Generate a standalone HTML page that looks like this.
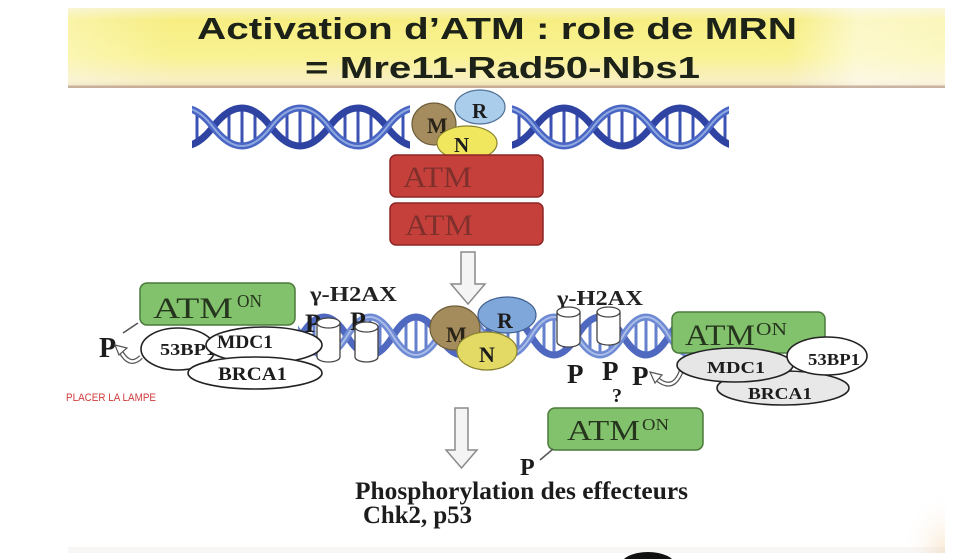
<!DOCTYPE html>
<html>
<head>
<meta charset="utf-8">
<style>
  html,body{margin:0;padding:0;background:#ffffff;}
  svg{display:block;}
  .ser{font-family:"Liberation Serif","DejaVu Serif",serif;}
  .sans{font-family:"Liberation Sans","DejaVu Sans",sans-serif;}
</style>
</head>
<body>
<svg width="978" height="559" viewBox="0 0 978 559" xmlns="http://www.w3.org/2000/svg">
  <defs>
    <linearGradient id="banV" x1="0" y1="0" x2="0" y2="1">
      <stop offset="0" stop-color="#f6f1c0"/>
      <stop offset="0.15" stop-color="#f7ee82"/>
      <stop offset="0.6" stop-color="#f9f292"/>
      <stop offset="0.9" stop-color="#f8efc0"/>
      <stop offset="1" stop-color="#eadcb4"/>
    </linearGradient>
    <linearGradient id="banH" x1="0" y1="0" x2="1" y2="0">
      <stop offset="0" stop-color="#ffffff" stop-opacity="0.3"/>
      <stop offset="0.12" stop-color="#ffffff" stop-opacity="0"/>
      <stop offset="0.82" stop-color="#ffffff" stop-opacity="0"/>
      <stop offset="0.9" stop-color="#ffffff" stop-opacity="0.55"/>
      <stop offset="1" stop-color="#ffffff" stop-opacity="0.45"/>
    </linearGradient>
    <radialGradient id="corner" cx="1" cy="1" r="1">
      <stop offset="0" stop-color="#f2c890" stop-opacity="0.4"/>
      <stop offset="1" stop-color="#ffffff" stop-opacity="0"/>
    </radialGradient>
    <clipPath id="cTL"><rect x="192" y="80" width="218" height="90"/></clipPath>
    <clipPath id="cTR"><rect x="512" y="80" width="217" height="90"/></clipPath>
    <clipPath id="cLow"><rect x="298" y="290" width="394" height="90"/></clipPath>
  </defs>

  <!-- background -->
  <rect x="0" y="0" width="978" height="559" fill="#ffffff"/>
  <rect x="900" y="490" width="45" height="63" fill="url(#corner)"/>
  <rect x="68" y="547" width="877" height="6" fill="#dcd6d4" opacity="0.2"/>
  <ellipse cx="648" cy="565" rx="27" ry="13" fill="#111111"/>

  <!-- Title banner -->
  <rect x="68" y="8" width="877" height="80" fill="url(#banV)"/>
  <rect x="68" y="8" width="877" height="80" fill="url(#banH)"/>
  <rect x="68" y="85.5" width="877" height="2.5" fill="#b89888" opacity="0.7"/>
  <text class="sans" x="197" y="39" font-size="31" font-weight="bold" fill="#1c2218" textLength="600" lengthAdjust="spacingAndGlyphs">Activation d’ATM : role de MRN</text>
  <text class="sans" x="305" y="78" font-size="31" font-weight="bold" fill="#1c2218" textLength="395" lengthAdjust="spacingAndGlyphs">= Mre11-Rad50-Nbs1</text>

  <!-- Top DNA left -->
  <g clip-path="url(#cTL)">
    <g stroke="#3c52b3" stroke-width="3">
      <line x1="197" y1="115" x2="197" y2="139"/>
      <line x1="229" y1="115" x2="229" y2="139"/><line x1="242" y1="111" x2="242" y2="143"/><line x1="255" y1="115" x2="255" y2="139"/>
      <line x1="287" y1="115" x2="287" y2="139"/><line x1="300" y1="111" x2="300" y2="143"/><line x1="313" y1="115" x2="313" y2="139"/>
      <line x1="345" y1="115" x2="345" y2="139"/><line x1="358" y1="111" x2="358" y2="143"/><line x1="371" y1="115" x2="371" y2="139"/>
      <line x1="403" y1="115" x2="403" y2="139"/>
    </g>
    <path d="M155,127 Q184,165 213,127 T271,127 T329,127 T387,127 T445,127" fill="none" stroke="#2f43a3" stroke-width="7"/>
    <path d="M155,127 Q184,89 213,127 T271,127 T329,127 T387,127 T445,127" fill="none" stroke="#4a66c4" stroke-width="7"/>
    <path d="M155,127 Q184,89 213,127 T271,127 T329,127 T387,127 T445,127" fill="none" stroke="#8fa9e0" stroke-width="2"/>
  </g>
  <!-- Top DNA right -->
  <g clip-path="url(#cTR)">
    <g stroke="#3c52b3" stroke-width="3">
      <line x1="519" y1="115" x2="519" y2="139"/>
      <line x1="551" y1="115" x2="551" y2="139"/><line x1="564" y1="111" x2="564" y2="143"/><line x1="577" y1="115" x2="577" y2="139"/>
      <line x1="609" y1="115" x2="609" y2="139"/><line x1="622" y1="111" x2="622" y2="143"/><line x1="635" y1="115" x2="635" y2="139"/>
      <line x1="667" y1="115" x2="667" y2="139"/><line x1="680" y1="111" x2="680" y2="143"/><line x1="693" y1="115" x2="693" y2="139"/>
      <line x1="725" y1="115" x2="725" y2="139"/>
    </g>
    <path d="M477,127 Q506,165 535,127 T593,127 T651,127 T709,127 T767,127" fill="none" stroke="#2f43a3" stroke-width="7"/>
    <path d="M477,127 Q506,89 535,127 T593,127 T651,127 T709,127 T767,127" fill="none" stroke="#4a66c4" stroke-width="7"/>
    <path d="M477,127 Q506,89 535,127 T593,127 T651,127 T709,127 T767,127" fill="none" stroke="#8fa9e0" stroke-width="2"/>
  </g>

  <!-- Top MRN -->
  <ellipse cx="434" cy="124" rx="22" ry="21" fill="#a58c5e" stroke="#6d5c38" stroke-width="1.2"/>
  <text class="ser" x="427" y="133" font-size="22" font-weight="bold" fill="#2a2418">M</text>
  <ellipse cx="480" cy="107" rx="25" ry="17" fill="#a9cdea" stroke="#4f6f95" stroke-width="1.2"/>
  <text class="ser" x="472" y="118" font-size="21" font-weight="bold" fill="#1c1c1c">R</text>
  <ellipse cx="467" cy="143" rx="30" ry="17" fill="#f0e75e" stroke="#8a8430" stroke-width="1.2"/>
  <text class="ser" x="454" y="152" font-size="21" font-weight="bold" fill="#1c1c1c">N</text>

  <!-- Red ATM boxes -->
  <rect x="390" y="155" width="153" height="42" rx="6" fill="#c6403b" stroke="#8d2623" stroke-width="1.5"/>
  <text class="ser" x="403" y="187" font-size="30" fill="#80302c" textLength="69" lengthAdjust="spacingAndGlyphs">ATM</text>
  <rect x="390" y="203" width="153" height="42" rx="6" fill="#c6403b" stroke="#8d2623" stroke-width="1.5"/>
  <text class="ser" x="405" y="235" font-size="30" fill="#80302c" textLength="68" lengthAdjust="spacingAndGlyphs">ATM</text>

  <!-- Arrow 1 -->
  <path d="M461,252 L475,252 L475,284 L485,284 L468,304 L451,284 L461,284 Z" fill="#f4f4f4" stroke="#8a8a8a" stroke-width="1.5"/>

  <!-- Lower DNA -->
  <g clip-path="url(#cLow)">
    <g stroke="#6580cc" stroke-width="3">
      <line x1="314" y1="324" x2="314" y2="348"/><line x1="324" y1="320" x2="324" y2="352"/><line x1="334" y1="324" x2="334" y2="348"/>
      <line x1="360" y1="324" x2="360" y2="348"/><line x1="370" y1="320" x2="370" y2="352"/><line x1="380" y1="324" x2="380" y2="348"/>
      <line x1="406" y1="324" x2="406" y2="348"/><line x1="416" y1="320" x2="416" y2="352"/><line x1="426" y1="324" x2="426" y2="348"/>
      <line x1="498" y1="324" x2="498" y2="348"/><line x1="508" y1="320" x2="508" y2="352"/><line x1="518" y1="324" x2="518" y2="348"/>
      <line x1="544" y1="324" x2="544" y2="348"/><line x1="554" y1="320" x2="554" y2="352"/><line x1="564" y1="324" x2="564" y2="348"/>
      <line x1="590" y1="324" x2="590" y2="348"/><line x1="600" y1="320" x2="600" y2="352"/><line x1="610" y1="324" x2="610" y2="348"/>
      <line x1="636" y1="324" x2="636" y2="348"/><line x1="646" y1="320" x2="646" y2="352"/><line x1="656" y1="324" x2="656" y2="348"/>
      <line x1="682" y1="324" x2="682" y2="348"/>
    </g>
    <path d="M255,336 Q278,374 301,336 T347,336 T393,336 T439,336 T485,336 T531,336 T577,336 T623,336 T669,336 T715,336" fill="none" stroke="#4f68c0" stroke-width="7"/>
    <path d="M255,336 Q278,298 301,336 T347,336 T393,336 T439,336 T485,336 T531,336 T577,336 T623,336 T669,336 T715,336" fill="none" stroke="#6f8ad4" stroke-width="7"/>
    <path d="M255,336 Q278,298 301,336 T347,336 T393,336 T439,336 T485,336 T531,336 T577,336 T623,336 T669,336 T715,336" fill="none" stroke="#aabde8" stroke-width="2"/>
  </g>

  <!-- Left gamma-H2AX -->
  <text class="ser" x="310" y="301" font-size="21" font-weight="bold" fill="#222" textLength="87" lengthAdjust="spacingAndGlyphs">γ-H2AX</text>
  <text class="ser" x="305" y="332" font-size="26" font-weight="bold" fill="#1c1c1c">P</text>
  <text class="ser" x="350" y="330" font-size="26" font-weight="bold" fill="#1c1c1c">P</text>
  <path d="M317,323 L317,357 A11.5,5 0 0 0 340,357 L340,323" fill="#ffffff" stroke="#444" stroke-width="1.3"/>
  <ellipse cx="328.5" cy="323" rx="11.5" ry="5" fill="#ffffff" stroke="#444" stroke-width="1.3"/>
  <path d="M355,327 L355,357 A11.5,5 0 0 0 378,357 L378,327" fill="#ffffff" stroke="#444" stroke-width="1.3"/>
  <ellipse cx="366.5" cy="327" rx="11.5" ry="5" fill="#ffffff" stroke="#444" stroke-width="1.3"/>

  <!-- Right gamma-H2AX -->
  <text class="ser" x="557" y="305" font-size="21" font-weight="bold" fill="#222" textLength="86" lengthAdjust="spacingAndGlyphs">γ-H2AX</text>
  <path d="M557,312 L557,342 A11.5,5 0 0 0 580,342 L580,312" fill="#ffffff" stroke="#444" stroke-width="1.3"/>
  <ellipse cx="568.5" cy="312" rx="11.5" ry="5" fill="#ffffff" stroke="#444" stroke-width="1.3"/>
  <path d="M597,312 L597,340 A11.5,5 0 0 0 620,340 L620,312" fill="#ffffff" stroke="#444" stroke-width="1.3"/>
  <ellipse cx="608.5" cy="312" rx="11.5" ry="5" fill="#ffffff" stroke="#444" stroke-width="1.3"/>
  <text class="ser" x="567" y="383" font-size="27" font-weight="bold" fill="#1c1c1c">P</text>
  <text class="ser" x="602" y="380" font-size="27" font-weight="bold" fill="#1c1c1c">P</text>
  <text class="ser" x="632" y="385" font-size="27" font-weight="bold" fill="#1c1c1c">P</text>
  <text class="ser" x="612" y="402" font-size="20" font-weight="bold" fill="#1c1c1c">?</text>

  <!-- Lower MRN -->
  <ellipse cx="455" cy="328" rx="25" ry="22" fill="#a48c5c" stroke="#6f5e3a" stroke-width="1.2"/>
  <text class="ser" x="446" y="342" font-size="22" font-weight="bold" fill="#2a2418">M</text>
  <ellipse cx="507" cy="315" rx="29" ry="18" fill="#7fa7d9" stroke="#3f5f90" stroke-width="1.2"/>
  <text class="ser" x="497" y="328" font-size="22" font-weight="bold" fill="#1c1c1c">R</text>
  <ellipse cx="487" cy="351" rx="30" ry="19" fill="#e3da66" stroke="#8a8430" stroke-width="1.2"/>
  <text class="ser" x="479" y="362" font-size="22" font-weight="bold" fill="#1c1c1c">N</text>

  <!-- Left complex -->
  <rect x="140" y="283" width="155" height="42" rx="7" fill="#83c26c" stroke="#4b7a3c" stroke-width="1.5"/>
  <text class="ser" x="153" y="318" font-size="30" fill="#26361e" textLength="80" lengthAdjust="spacingAndGlyphs">ATM</text>
  <text class="ser" x="237" y="307" font-size="18" fill="#26361e" textLength="25" lengthAdjust="spacingAndGlyphs">ON</text>
  <line x1="123" y1="333" x2="138" y2="323" stroke="#555" stroke-width="1.5"/>
  <text class="ser" x="99" y="357" font-size="28" font-weight="bold" fill="#1c1c1c">P</text>
  <path d="M141,357 Q130,368 121,352" fill="none" stroke="#555" stroke-width="5"/>
  <path d="M141,357 Q130,368 121,352" fill="none" stroke="#ffffff" stroke-width="2.5"/>
  <path d="M115,345 L127,348 L119,355 Z" fill="#ffffff" stroke="#555" stroke-width="1.2"/>
  <ellipse cx="178" cy="349" rx="37" ry="21" fill="#ffffff" stroke="#222" stroke-width="1.6"/>
  <text class="ser" x="160" y="355" font-size="17" font-weight="bold" fill="#1c1c1c" textLength="56" lengthAdjust="spacingAndGlyphs">53BP1</text>
  <ellipse cx="264" cy="345" rx="58" ry="18" fill="#ffffff" stroke="#222" stroke-width="1.6"/>
  <text class="ser" x="217" y="348" font-size="19" font-weight="bold" fill="#1c1c1c" textLength="56" lengthAdjust="spacingAndGlyphs">MDC1</text>
  <ellipse cx="255" cy="373" rx="67" ry="16" fill="#ffffff" stroke="#222" stroke-width="1.6"/>
  <text class="ser" x="218" y="380" font-size="19" font-weight="bold" fill="#1c1c1c" textLength="69" lengthAdjust="spacingAndGlyphs">BRCA1</text>

  <!-- Right complex -->
  <rect x="672" y="312" width="153" height="41" rx="7" fill="#83c26c" stroke="#4b7a3c" stroke-width="1.5"/>
  <text class="ser" x="685" y="345" font-size="30" fill="#26361e" textLength="70" lengthAdjust="spacingAndGlyphs">ATM</text>
  <text class="ser" x="756" y="335" font-size="18" fill="#26361e" textLength="31" lengthAdjust="spacingAndGlyphs">ON</text>
  <path d="M682,369 Q674,393 657,379" fill="none" stroke="#555" stroke-width="5"/>
  <path d="M682,369 Q674,393 657,379" fill="none" stroke="#ffffff" stroke-width="2.5"/>
  <path d="M650,372 L662,375 L655,383 Z" fill="#ffffff" stroke="#555" stroke-width="1.2"/>
  <ellipse cx="783" cy="388" rx="66" ry="17" fill="#e8e8e8" stroke="#222" stroke-width="1.6"/>
  <text class="ser" x="748" y="399" font-size="17" font-weight="bold" fill="#1c1c1c" textLength="64" lengthAdjust="spacingAndGlyphs">BRCA1</text>
  <ellipse cx="735" cy="365" rx="58" ry="17" fill="#e6e6e6" stroke="#222" stroke-width="1.6"/>
  <text class="ser" x="707" y="373" font-size="17" font-weight="bold" fill="#1c1c1c" textLength="58" lengthAdjust="spacingAndGlyphs">MDC1</text>
  <ellipse cx="827" cy="356" rx="40" ry="19" fill="#ffffff" stroke="#222" stroke-width="1.6"/>
  <text class="ser" x="808" y="365" font-size="17" font-weight="bold" fill="#1c1c1c" textLength="52" lengthAdjust="spacingAndGlyphs">53BP1</text>

  <!-- PLACER LA LAMPE -->
  <text class="sans" x="66" y="401" font-size="11" fill="#d03a3a" textLength="90" lengthAdjust="spacingAndGlyphs">PLACER LA LAMPE</text>

  <!-- Arrow 2 -->
  <path d="M455,408 L468,408 L468,450 L477,450 L461.5,468 L446,450 L455,450 Z" fill="#f4f4f4" stroke="#8a8a8a" stroke-width="1.5"/>

  <!-- Bottom ATM ON -->
  <rect x="548" y="408" width="155" height="42" rx="7" fill="#83c26c" stroke="#4b7a3c" stroke-width="1.5"/>
  <text class="ser" x="567" y="440" font-size="29" fill="#26361e" textLength="73" lengthAdjust="spacingAndGlyphs">ATM</text>
  <text class="ser" x="642" y="430" font-size="17" fill="#26361e" textLength="27" lengthAdjust="spacingAndGlyphs">ON</text>
  <line x1="540" y1="460" x2="553" y2="449" stroke="#555" stroke-width="1.5"/>
  <text class="ser" x="520" y="475" font-size="24" font-weight="bold" fill="#1c1c1c">P</text>

  <!-- Bottom text -->
  <text class="ser" x="355" y="499" font-size="25" font-weight="bold" fill="#1c1c1c" textLength="333" lengthAdjust="spacingAndGlyphs">Phosphorylation des effecteurs</text>
  <text class="ser" x="363" y="523" font-size="25" font-weight="bold" fill="#1c1c1c" textLength="109" lengthAdjust="spacingAndGlyphs">Chk2, p53</text>
</svg>
</body>
</html>
